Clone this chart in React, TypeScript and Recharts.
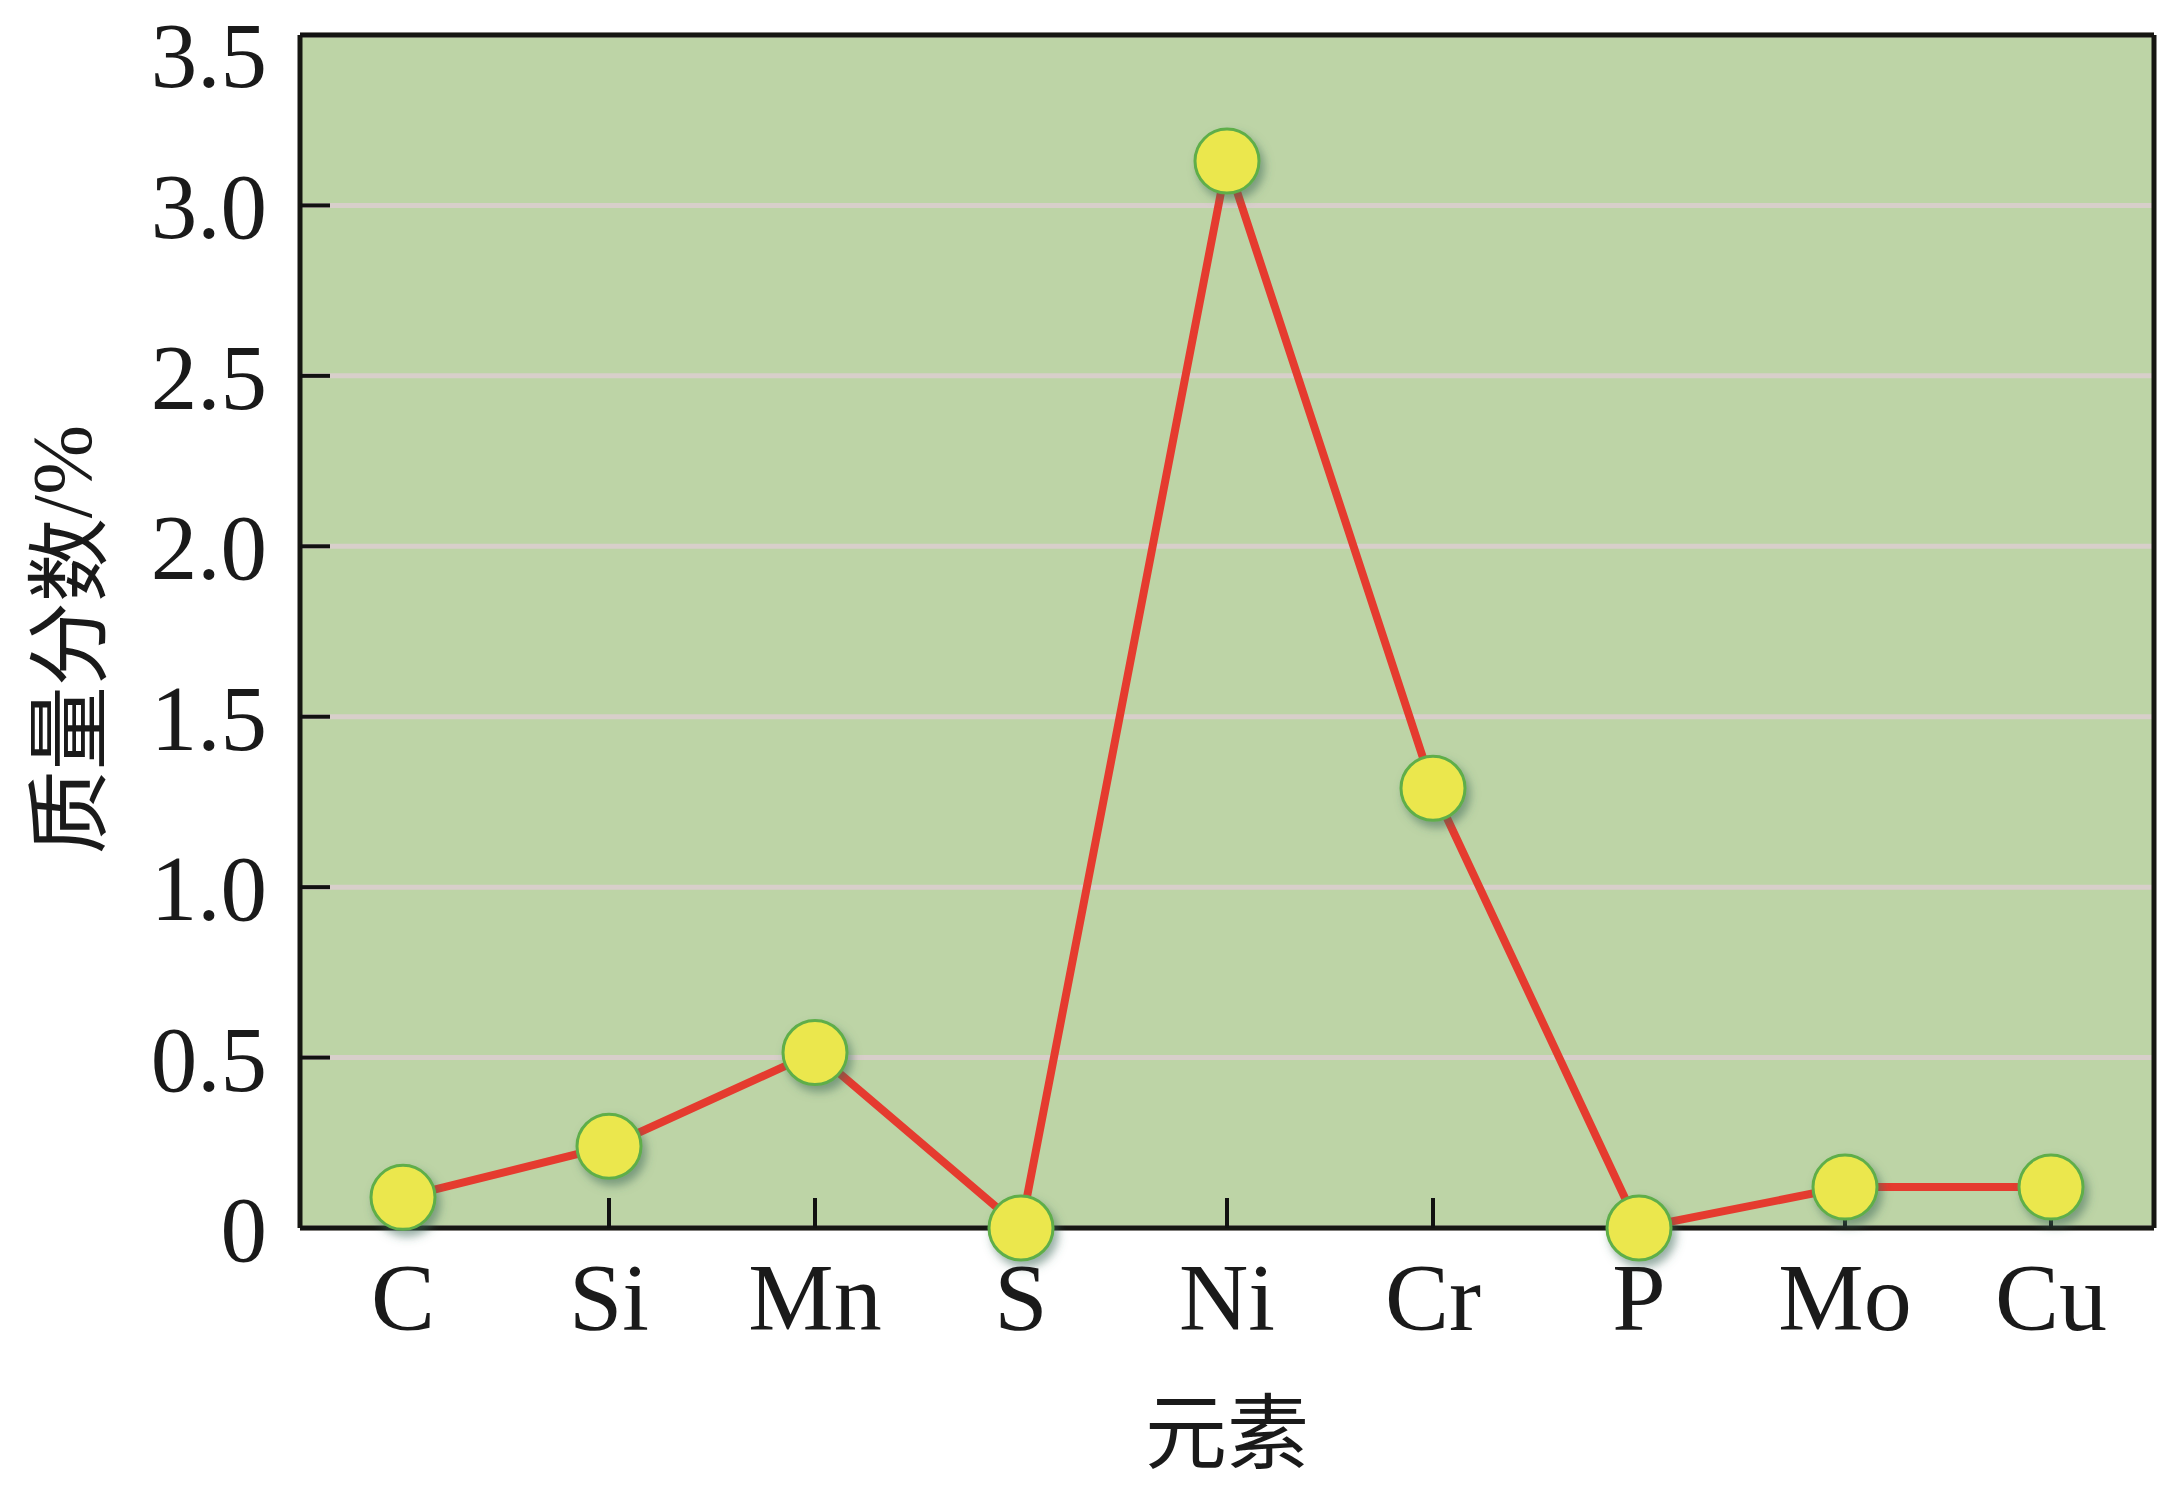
import React from 'react';
import { LineChart, Line, XAxis, YAxis, CartesianGrid } from 'recharts';

const elements = ['C', 'Si', 'Mn', 'S', 'Ni', 'Cr', 'P', 'Mo', 'Cu'];
const massFraction = [0.09, 0.24, 0.515, 0, 3.13, 1.29, 0, 0.12, 0.12];
const yTicks = [0, 0.5, 1, 1.5, 2, 2.5, 3, 3.5];
const xTitle = '元素';
const yTitleCJK = '质量分数';
const yTitleUnit = '/%';

const data = elements.map((e, i) => ({ element: e, value: massFraction[i] }));

const SERIF = '"Liberation Serif", "Times New Roman", serif';
const CJK = '"Noto Sans CJK SC", sans-serif';
const BORDER = { stroke: '#161612', strokeWidth: 5 };

const Dot = (props: any) => {
  const { cx, cy, index } = props;
  if (cx == null || cy == null) return null;
  return (
    <g key={`dot-${index}`}>
      <defs>
        <filter id={`dotShadow${index}`} x="-50%" y="-50%" width="200%" height="200%">
          <feDropShadow dx="4" dy="6" stdDeviation="5" floodColor="#3f6a5a" floodOpacity="0.55" />
        </filter>
      </defs>
      <circle cx={cx} cy={cy} r={32} fill="#ebe74e" stroke="#5fae4a" strokeWidth={3} filter={`url(#dotShadow${index})`} />
    </g>
  );
};

const YTitle = (props: any) => {
  const vb = props.viewBox || { x: 0, y: 0, width: 0, height: 0 };
  const cx = vb.x + 62;
  const cy = vb.y + vb.height / 2 + 8;
  return (
    <text x={cx} y={cy} transform={`rotate(-90 ${cx} ${cy})`} textAnchor="middle" dominantBaseline="central" fontSize={84} fill="#1a1a1a">
      <tspan fontFamily={CJK}>{yTitleCJK}</tspan>
      <tspan fontFamily={SERIF}>{yTitleUnit}</tspan>
    </text>
  );
};

const XTitle = (props: any) => {
  const vb = props.viewBox || { x: 0, y: 0, width: 0, height: 0 };
  const cx = vb.x + vb.width / 2;
  const cy = vb.y + 198;
  return (
    <text x={cx} y={cy} textAnchor="middle" dominantBaseline="central" fontSize={82} fontFamily={CJK} fill="#1a1a1a">
      {xTitle}
    </text>
  );
};

export default function App() {
  return (
    <div style={{ position: 'absolute', left: 0, top: 0, width: 2158, height: 1487, background: '#ffffff' }}>
      <LineChart width={2158} height={1487} data={data} margin={{ top: 34, right: 0, bottom: 0, left: 0 }}>
        <CartesianGrid vertical={false} fill="#bdd4a6" stroke="#d8cfca" strokeWidth={5} />
        <XAxis
          dataKey="element"
          height={259}
          padding={{ left: 103, right: 103 }}
          axisLine={BORDER}
          tickSize={-30}
          tickMargin={64}
          tickLine={{ stroke: '#111', strokeWidth: 4 }}
          tick={{ fontSize: 96, fontFamily: SERIF, fill: '#1a1a1a' }}
          interval={0}
          label={<XTitle />}
        />
        <XAxis
          xAxisId="top"
          orientation="top"
          dataKey="element"
          height={1}
          padding={{ left: 103, right: 103 }}
          axisLine={BORDER}
          tick={false}
          tickLine={false}
        />
        <YAxis
          width={300}
          domain={[0, 3.5]}
          ticks={yTicks}
          axisLine={BORDER}
          tickSize={-30}
          tickMargin={63}
          tickLine={{ stroke: '#111', strokeWidth: 4 }}
          tick={{ fontSize: 93, fontFamily: SERIF, fill: '#1a1a1a' }}
          tickFormatter={(v: number) => (v === 0 ? '0' : v.toFixed(1))}
          label={<YTitle />}
        />
        <YAxis
          yAxisId="right"
          orientation="right"
          width={4}
          domain={[0, 3.5]}
          axisLine={BORDER}
          tick={false}
          tickLine={false}
        />
        <Line
          xAxisId="top"
          yAxisId="right"
          type="linear"
          dataKey="value"
          stroke="none"
          strokeWidth={0}
          dot={false}
          activeDot={false}
          legendType="none"
          isAnimationActive={false}
        />
        <Line
          type="linear"
          dataKey="value"
          stroke="#e53b2f"
          strokeWidth={8}
          dot={<Dot />}
          activeDot={false}
          isAnimationActive={false}
        />
      </LineChart>
    </div>
  );
}
